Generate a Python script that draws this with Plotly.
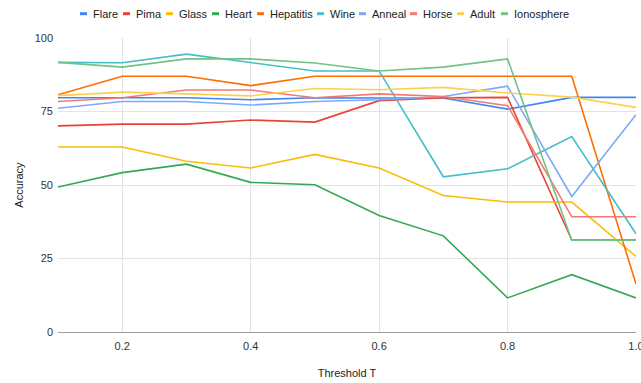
import plotly.graph_objects as go

thresholds = [0.1, 0.2, 0.3, 0.4, 0.5, 0.6, 0.7, 0.8, 0.9, 1.0]

flare      = [79.7, 79.7, 79.7, 79.0, 79.7, 79.6, 79.6, 75.8, 79.8, 79.8]
pima       = [70.1, 70.7, 70.7, 72.1, 71.4, 78.7, 79.7, 79.8, 31.3, 31.3]
glass      = [62.9, 62.9, 58.1, 55.8, 60.4, 55.8, 46.4, 44.2, 44.2, 25.7]
heart      = [49.3, 54.2, 57.1, 50.9, 50.1, 39.6, 32.7, 11.6, 19.5, 11.6]
hepatitis  = [80.7, 87.0, 87.0, 83.8, 87.0, 87.0, 87.0, 87.0, 87.0, 16.3]
wine       = [91.7, 91.6, 94.5, 91.6, 88.8, 88.8, 52.8, 55.5, 66.5, 33.4]
anneal     = [76.1, 78.4, 78.4, 77.2, 78.4, 79.0, 80.1, 83.6, 46.1, 73.9]
horse      = [78.4, 79.7, 82.3, 82.3, 79.7, 81.0, 80.1, 77.0, 39.2, 39.2]
adult      = [80.4, 81.6, 81.0, 80.3, 82.8, 82.4, 83.2, 81.3, 79.9, 76.4]
ionosphere = [91.7, 90.1, 92.9, 92.9, 91.5, 88.8, 90.1, 92.9, 31.2, 31.2]

series_names = ["Flare", "Pima", "Glass", "Heart", "Hepatitis",
                "Wine", "Anneal", "Horse", "Adult", "Ionosphere"]
series_values = [flare, pima, glass, heart, hepatitis,
                 wine, anneal, horse, adult, ionosphere]
colors = ["#4285f4", "#ea4335", "#fbbc04", "#34a853", "#ff6d01",
          "#46bdc6", "#7baaf7", "#f07b72", "#fcd04f", "#71c287"]

x_ticks = [0.2, 0.4, 0.6, 0.8, 1.0]
x_tick_labels = ["0.2", "0.4", "0.6", "0.8", "1.0"]
y_ticks = [0, 25, 50, 75, 100]

W, H = 641, 383
ML, MR, MT, MB = 58, 5, 38, 51
PW, PH = W - ML - MR, H - MT - MB

fig = go.Figure()
for name, vals, c in zip(series_names, series_values, colors):
    fig.add_trace(go.Scatter(x=thresholds, y=vals, mode="lines", name=name,
                             line=dict(color=c, width=1.6), showlegend=False))

# custom compact legend (top, horizontal)
def px2x(px):
    return (px - ML) / PW

def py2y(py):
    return (H - MB - py) / PH

legend_left = [80, 123, 166, 212, 257, 317, 359, 410, 457, 501]
ly = 13.7
shapes = []
annotations = []
for name, c, lx in zip(series_names, colors, legend_left):
    shapes.append(dict(type="line", xref="paper", yref="paper",
                       x0=px2x(lx), x1=px2x(lx + 7), y0=py2y(ly), y1=py2y(ly),
                       line=dict(color=c, width=3)))
    annotations.append(dict(text=name, xref="paper", yref="paper",
                            x=px2x(lx + 11), y=py2y(ly), xanchor="left",
                            yanchor="middle", showarrow=False,
                            font=dict(size=11, color="#222222")))

fig.update_layout(
    width=W, height=H,
    margin=dict(l=ML, r=MR, t=MT, b=MB, autoexpand=False),
    paper_bgcolor="white", plot_bgcolor="white",
    font=dict(family="Liberation Sans, Arial, sans-serif", size=11, color="#444444"),
    shapes=shapes, annotations=annotations,
    showlegend=False,
    xaxis=dict(range=[0.1, 1.0], tickvals=x_ticks, ticktext=x_tick_labels,
               showgrid=True, gridcolor="#e3e3e3", gridwidth=1,
               zeroline=False, showline=False, ticks="",
               ticklabeloverflow="allow", ticklabelstandoff=6,
               tickfont=dict(size=11, color="#333333"),
               title=dict(text="Threshold T", font=dict(size=11, color="#222222"),
                          standoff=18)),
    yaxis=dict(range=[0, 100], tickvals=y_ticks,
               showgrid=True, gridcolor="#e3e3e3", gridwidth=1,
               zeroline=True, zerolinecolor="#9e9e9e", zerolinewidth=1,
               showline=False, ticks="", ticklabelstandoff=4,
               tickfont=dict(size=11, color="#333333"),
               title=dict(text="Accuracy", font=dict(size=11, color="#222222"),
                          standoff=8)),
)

fig.write_html("out.html", config={"displayModeBar": False},
               post_script="document.body.style.margin='0';document.body.style.overflow='hidden';")
